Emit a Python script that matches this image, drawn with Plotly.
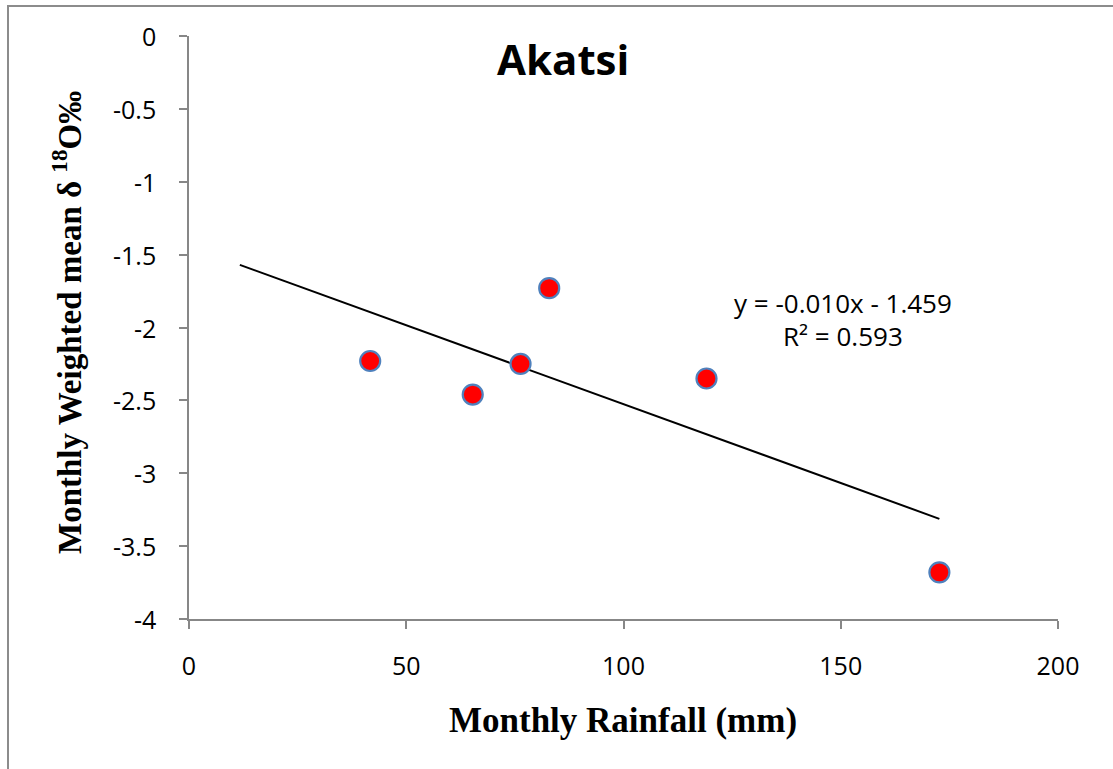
import numpy as np
import plotly.graph_objects as go

# Monthly rainfall (mm) and weighted mean delta-18O (permil) at Akatsi
rainfall_mm = [41.7, 65.3, 76.3, 82.9, 119.1, 172.7]
delta18o = [-2.23, -2.46, -2.25, -1.73, -2.35, -3.68]

x_ticks = [0, 50, 100, 150, 200]
y_ticks = [0, -0.5, -1, -1.5, -2, -2.5, -3, -3.5, -4]
y_tick_text = ["0", "-0.5", "-1", "-1.5", "-2", "-2.5", "-3", "-3.5", "-4"]

equation_text = "y = -0.010x - 1.459"
r2_text = "R² = 0.593"

# Linear trendline (least squares), extended 30 mm backward
slope, intercept = np.polyfit(rainfall_mm, delta18o, 1)
trend_x = np.array([min(rainfall_mm) - 30, max(rainfall_mm)])
trend_y = slope * trend_x + intercept

W, H = 1113, 769
ML, MR, MT, MB = 189, 55, 36, 150
PW, PH = W - ML - MR, H - MT - MB


def px(xp):
    return (xp - ML) / PW


def py(yp):
    return (H - MB - yp) / PH


axis_grey = "#878787"
calibri_like = "Open Sans, Noto Sans, sans-serif"
serif = "Liberation Serif, Times New Roman, serif"


def label(text, xp, yp, font, angle=0):
    return dict(text=text, xref="paper", yref="paper",
                x=px(xp), y=py(yp), xanchor="center", yanchor="middle",
                textangle=angle, showarrow=False, font=font)


fig = go.Figure()
fig.add_trace(go.Scatter(
    x=trend_x, y=trend_y, mode="lines",
    line=dict(color="black", width=2),
    hoverinfo="skip", showlegend=False,
))
fig.add_trace(go.Scatter(
    x=rainfall_mm, y=delta18o, mode="markers",
    marker=dict(size=20, color="#FF0000",
                line=dict(color="#4F81BD", width=2.2)),
    showlegend=False,
))

tick_font = dict(family=calibri_like, size=25, color="black")

# y tick labels placed on the y scale, set further out from the axis line
y_tick_labels = [
    dict(text=t, xref="paper", yref="y", x=px(158), y=v,
         xanchor="right", yanchor="middle", showarrow=False, font=tick_font)
    for v, t in zip(y_ticks, y_tick_text)
]

fig.update_layout(
    width=W, height=H,
    margin=dict(l=ML, r=MR, t=MT, b=MB),
    paper_bgcolor="white", plot_bgcolor="white",
    xaxis=dict(
        range=[0, 200], tickvals=x_ticks, showgrid=False, zeroline=False,
        showline=True, linecolor=axis_grey, linewidth=1.5,
        ticks="outside", ticklen=8, tickwidth=1.5, tickcolor=axis_grey,
        tickfont=tick_font, ticklabelstandoff=16,
    ),
    yaxis=dict(
        range=[-4, 0], tickvals=y_ticks, showticklabels=False,
        showgrid=False, zeroline=False,
        showline=True, linecolor=axis_grey, linewidth=1.5,
        ticks="outside", ticklen=8, tickwidth=1.5, tickcolor=axis_grey,
    ),
    shapes=[
        # chart frame (top and left edges visible)
        dict(type="rect", xref="paper", yref="paper",
             x0=px(8), x1=px(1125), y0=py(6), y1=py(780),
             line=dict(color="#8C8C8C", width=2), layer="below"),
    ],
    annotations=y_tick_labels + [
        label("<b>Akatsi</b>", 563, 58,
              dict(family=calibri_like, size=42, color="black")),
        label(equation_text, 843, 303,
              dict(family=calibri_like, size=26, color="black")),
        label(r2_text, 843, 336,
              dict(family=calibri_like, size=26, color="black")),
        label("<b>Monthly Rainfall (mm)</b>", 623, 720,
              dict(family=serif, size=35, color="black")),
        label("<b>Monthly Weighted mean δ <sup>18</sup>O‰</b>", 67, 323,
              dict(family=serif, size=33, color="black"), angle=-90),
    ],
)

fig.write_html("out.html")
